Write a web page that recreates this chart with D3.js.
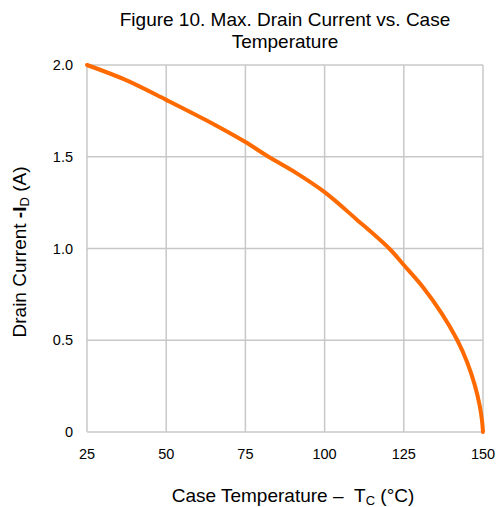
<!DOCTYPE html>
<html>
<head>
<meta charset="utf-8">
<script src="https://cdn.jsdelivr.net/npm/d3@7"></script>
<style>
  body { margin: 0; background: #fff; }
  svg text { font-family: "Liberation Sans", Arial, sans-serif; fill: #000; }
</style>
</head>
<body>
<div id="chart"></div>
<script>
// values
const temps   = [25, 37, 50, 62.5, 75, 82.3, 91, 100, 110, 120.4, 125, 131, 137, 141.9, 145, 147.5, 149, 149.7, 150];
const current = [2.0, 1.92, 1.81, 1.70, 1.58, 1.5, 1.412, 1.307, 1.16, 1.0, 0.91, 0.79, 0.645, 0.5, 0.38, 0.25, 0.14, 0.06, 0];
const xTicks = [25, 50, 75, 100, 125, 150];
const yTicks = [0, 0.5, 1.0, 1.5, 2.0];
const yTickLabels = ["0", "0.5", "1.0", "1.5", "2.0"];

const W = 497, H = 507;
const margin = {top: 65, right: 14, bottom: 75, left: 87};
const width = W - margin.left - margin.right,
      height = H - margin.top - margin.bottom;

const svg = d3.select("#chart").append("svg")
    .attr("width", W)
    .attr("height", H);

const g = svg.append("g")
    .attr("transform", "translate(" + margin.left + "," + margin.top + ")");

const x = d3.scaleLinear().domain([25, 150]).range([0, width]);
const y = d3.scaleLinear().domain([0, 2]).range([height, 0]);

// grid
g.selectAll(".vgrid").data(xTicks).enter().append("line")
    .attr("x1", d => x(d)).attr("x2", d => x(d))
    .attr("y1", 0).attr("y2", height)
    .style("stroke", "#c8c8c8").style("stroke-width", 1.5);
g.selectAll(".hgrid").data(yTicks).enter().append("line")
    .attr("x1", 0).attr("x2", width)
    .attr("y1", d => y(d)).attr("y2", d => y(d))
    .style("stroke", "#c8c8c8").style("stroke-width", 1.5);

// tick labels
g.selectAll(".xlab").data(xTicks).enter().append("text")
    .attr("x", d => x(d)).attr("y", height + 27)
    .attr("text-anchor", "middle")
    .style("font-size", "14.5px")
    .text(d => d);
g.selectAll(".ylab").data(yTicks).enter().append("text")
    .attr("x", -14).attr("y", d => y(d) + 5)
    .attr("text-anchor", "end")
    .style("font-size", "14.5px")
    .text((d, i) => yTickLabels[i]);

// curve
const line = d3.line()
    .x((d, i) => x(temps[i]))
    .y(d => y(d))
    .curve(d3.curveCatmullRom.alpha(0.5));
g.append("path")
    .attr("d", line(current))
    .style("fill", "none")
    .style("stroke", "#ff6a00")
    .style("stroke-width", 4)
    .style("stroke-linecap", "round");

// title
const title = svg.append("text")
    .attr("text-anchor", "middle")
    .style("font-size", "19px");
title.append("tspan").attr("x", 285).attr("y", 26).text("Figure 10. Max. Drain Current vs. Case");
title.append("tspan").attr("x", 285).attr("y", 48).text("Temperature");

// x axis title
const xt = svg.append("text")
    .attr("x", 293).attr("y", 502)
    .attr("text-anchor", "middle")
    .style("font-size", "19px");
xt.append("tspan").text("Case Temperature \u2013\u00a0\u00a0T");
xt.append("tspan").attr("dy", 3).style("font-size", "13px").text("C");
xt.append("tspan").attr("dy", -3).text(" (\u00b0C)");

// y axis title
const yt = svg.append("text")
    .attr("transform", "translate(26,252) rotate(-90)")
    .attr("text-anchor", "middle")
    .style("font-size", "19px");
yt.append("tspan").text("Drain Current ");
yt.append("tspan").style("font-weight", "bold").text("-I");
yt.append("tspan").attr("dy", 3).style("font-size", "13px").text("D");
yt.append("tspan").attr("dy", -3).text(" (A)");
</script>
</body>
</html>
